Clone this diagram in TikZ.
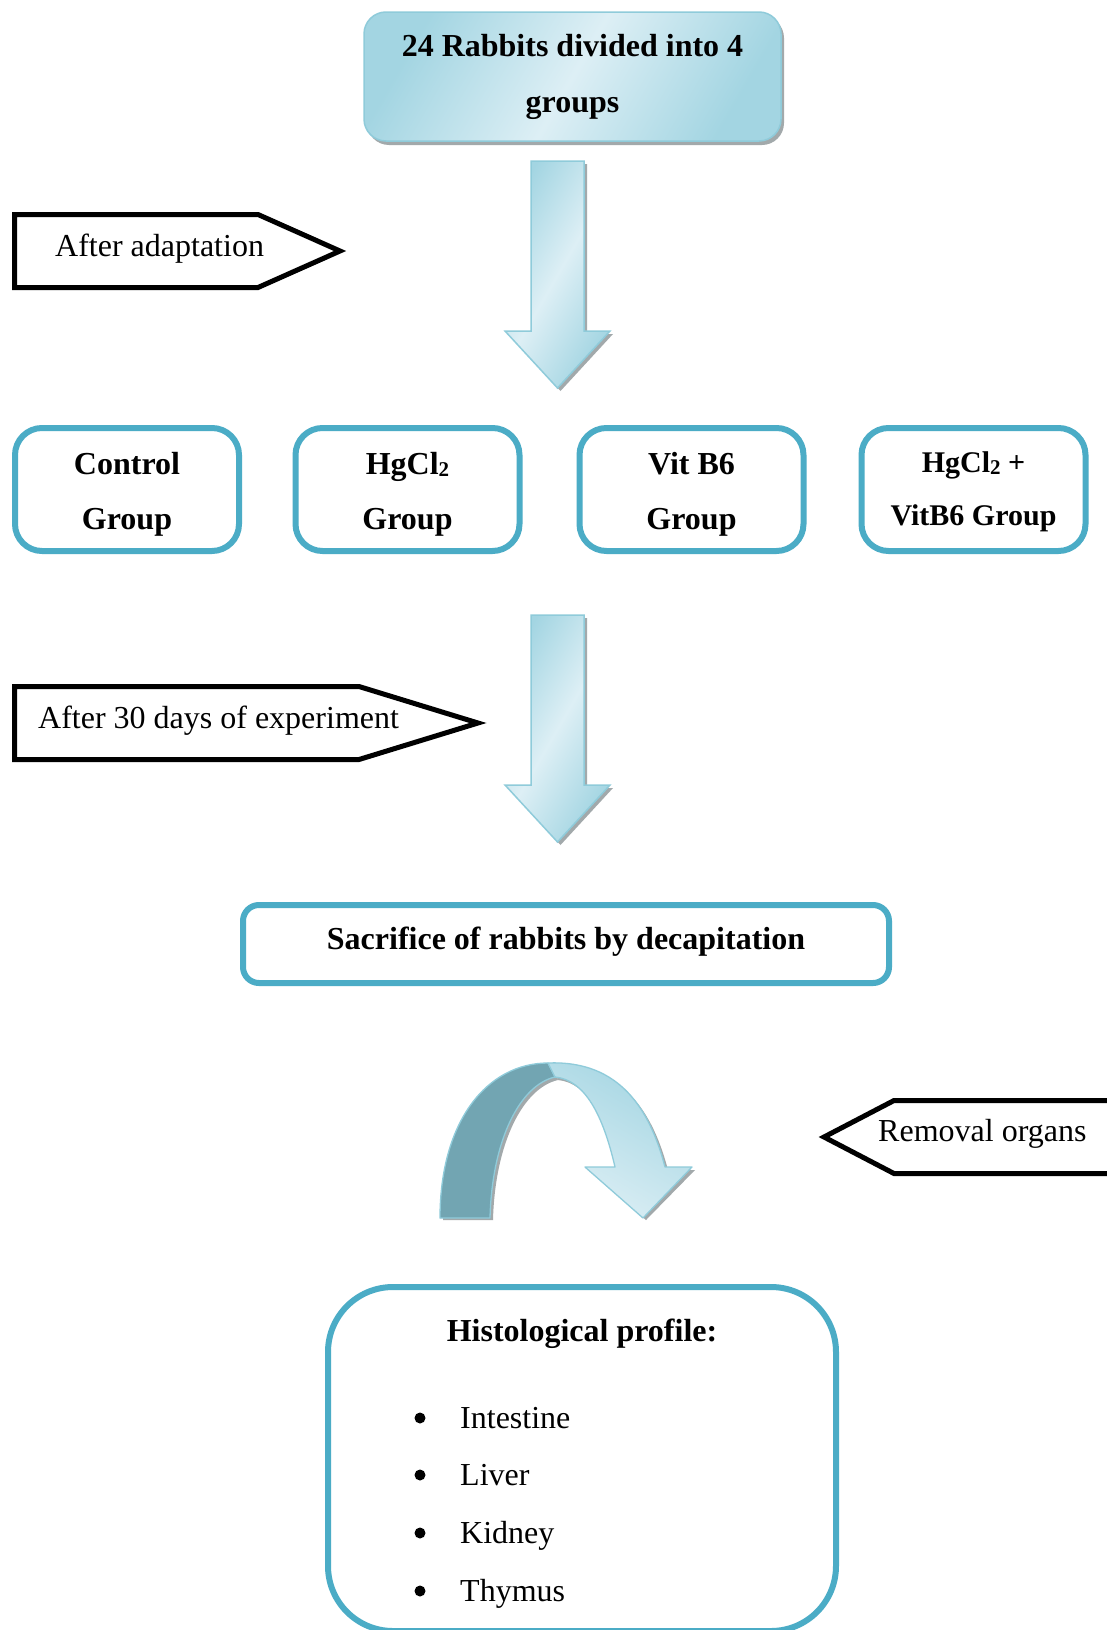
\documentclass[tikz,border=0pt]{standalone}
\usepackage{fontspec}
\setmainfont{Liberation Serif}
\usetikzlibrary{shadows}
\definecolor{boxblue}{HTML}{4BACC6}
\definecolor{edgeblue}{HTML}{8FCBDA}
\definecolor{lightblue}{HTML}{DDEFF5}
\definecolor{midblue}{HTML}{A3D5E2}
\definecolor{darkteal}{HTML}{72A5B2}
\definecolor{shadowgray}{HTML}{A2A9AB}
\newcommand\subtwo{\raisebox{-1.5pt}{\fontsize{21}{21}\selectfont 2}}
\tikzset{
  pics/blockdown/.style={code={
    \fill[shadowgray] (-23.5,3) -- (29.5,3) -- (29.5,173) -- (55.5,173) -- (3,230) -- (-49.5,173) -- (-23.5,173) -- cycle;
    \path[draw=edgeblue, line width=1.5pt, left color=midblue, right color=midblue, middle color=lightblue, shading angle=60]
      (-26.5,0) -- (26.5,0) -- (26.5,170) -- (52.5,170) -- (0,227) -- (-52.5,170) -- (-26.5,170) -- cycle;
  }}
}
\begin{document}
\begin{tikzpicture}[x=1pt,y=-1pt,
  every node/.style={inner sep=0pt, font=\fontsize{32}{56}\selectfont},
  grpbox/.style={draw=boxblue, line width=6pt, rounded corners=27pt, fill=white,
    minimum width=224pt, minimum height=123pt},
  grptext/.style={align=center, font=\fontsize{32}{55}\selectfont\bfseries},
  topbox/.style={draw=edgeblue, line width=1.5pt, rounded corners=22pt,
    minimum width=417pt, minimum height=129pt, align=center,
    left color=midblue, right color=midblue, middle color=lightblue, shading angle=60,
    drop shadow={shadow xshift=3pt, shadow yshift=-4pt, fill=shadowgray, opacity=1},
    font=\fontsize{32}{56}\selectfont\bfseries},
  pent/.style={draw=black, line width=5pt, line join=miter, fill=white},
  lbl/.style={anchor=west},
  dot/.style={circle, fill=black, minimum size=11pt}
]
\fill[white] (0,0) rectangle (1106,1630);
\useasboundingbox (0,0) rectangle (1106,1630);

% top box
\node[topbox] (top) at (572.5,76.5) {24 Rabbits divided into 4\\groups};

% first block arrow
\pic at (557.5,161) {blockdown};

% after adaptation
\draw[pent] (14.5,214.5) -- (258,214.5) -- (340,251) -- (258,287.5) -- (14.5,287.5) -- cycle;
\node[lbl] (t1) at (55,249) {After adaptation};

% groups
\node[grpbox] (g1) at (127,489.5) {};
\node[grpbox] (g2) at (407.5,489.5) {};
\node[grpbox] (g3) at (691.5,489.5) {};
\node[grpbox] (g4) at (973.5,489.5) {};
\node[grptext] (g1t) at (127,494.7) {Control\\Group};
\node[grptext] (g2t) at (407.5,494.7) {HgCl\subtwo\\Group};
\node[grptext] (g3t) at (691.5,494.7) {Vit B6\\Group};
\node[grptext, font=\fontsize{30}{53}\selectfont\bfseries] (g4t) at (973.5,492) {HgCl\subtwo{} +\\VitB6 Group};

% second block arrow
\pic at (557.5,615) {blockdown};

% after 30 days
\draw[pent] (14.5,686.5) -- (359,686.5) -- (478,723) -- (359,759.5) -- (14.5,759.5) -- cycle;
\node[lbl] (t2) at (38,721) {After 30 days of experiment};

% sacrifice
\node[grpbox, minimum width=646pt, minimum height=78pt, rounded corners=16pt] (sac) at (566,944) {};
\node[grptext] (sact) at (566,942) {Sacrifice of rabbits by decapitation};

% curved arrow shadow
\fill[shadowgray] (443,1220) .. controls (443,1123) and (491,1066) .. (551,1066) -- (558,1080) .. controls (523,1088) and (495,1143) .. (493,1220) -- cycle;
\fill[shadowgray] (551,1066) .. controls (623,1063) and (653,1113) .. (668,1170) -- (695,1170) -- (646,1220) -- (588,1170) -- (618,1170) .. controls (606,1118) and (588,1083) .. (558,1080) -- cycle;
% curved arrow
\filldraw[draw=edgeblue, fill=darkteal, line width=1.3pt, line join=round]
  (440,1218) .. controls (440,1120) and (488,1063) .. (548,1063) -- (555,1077)
  .. controls (520,1085) and (492,1140) .. (490,1218) -- cycle;
\path[draw=edgeblue, line width=1.3pt, line join=round, top color=midblue, bottom color=lightblue, shading angle=-30]
  (548,1063) .. controls (620,1060) and (650,1110) .. (665,1167) -- (692,1167) -- (643,1218)
  -- (585,1167) -- (615,1167) .. controls (603,1115) and (585,1080) .. (555,1077) -- cycle;

% removal organs
\draw[pent] (1125,1100.5) -- (894,1100.5) -- (824,1137) -- (894,1173.5) -- (1125,1173.5);
\node[lbl] (t3) at (878,1134) {Removal organs};

% histological box
\node[draw=boxblue, line width=6pt, rounded corners=65pt, minimum width=508pt, minimum height=344pt] (hist) at (582,1459) {};
\node[font=\fontsize{32}{56}\selectfont\bfseries] (ht) at (582,1334) {Histological profile:};
\node[dot] (b1) at (420,1418) {};
\node[dot] (b2) at (420,1475) {};
\node[dot] (b3) at (420,1533) {};
\node[dot] (b4) at (420,1591) {};
\node[anchor=base west] (i1) at (460,1428) {Intestine};
\node[anchor=base west] (i2) at (460,1485) {Liver};
\node[anchor=base west] (i3) at (460,1543) {Kidney};
\node[anchor=base west] (i4) at (460,1601) {Thymus};
\end{tikzpicture}
\end{document}
